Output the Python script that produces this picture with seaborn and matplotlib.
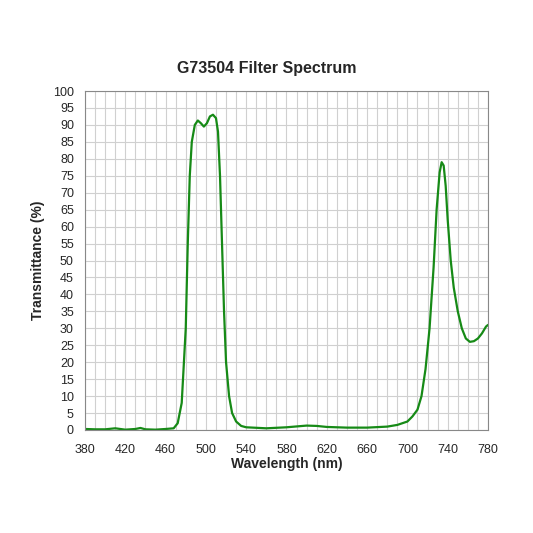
import matplotlib
matplotlib.use("Agg")
import matplotlib.pyplot as plt
import seaborn as sns
import pandas as pd

wavelength = [380,390,400,410,420,430,435,440,450,460,468,472,476,480,482,484,486,489,492,495,498,501,504,507,510,512,514,516,518,520,523,526,530,535,540,560,580,600,610,620,640,660,680,690,700,705,710,714,718,722,726,729,732,734,736,738,740,743,746,750,754,758,762,766,770,774,778,780]
transmittance = [0.3,0.2,0.2,0.5,0.1,0.3,0.6,0.2,0.1,0.3,0.5,2,8,30,55,75,85,90,91.3,90.5,89.5,90.5,92.5,93,92,88,75,55,35,20,10,5,2.5,1.2,0.8,0.5,0.8,1.3,1.2,0.9,0.7,0.7,1,1.5,2.5,4,6,10,18,30,48,65,76,79,78,72,62,50,42,35,30,27,26,26.2,27,28.5,30.5,31]

sns.set_theme(style="white")
plt.rcParams['font.family'] = ['Liberation Sans', 'DejaVu Sans']
df = pd.DataFrame({"wl": wavelength, "t": transmittance})

fig = plt.figure(figsize=(5.33, 5.33), dpi=100)
ax = fig.add_axes([85/533, 1-430/533, 403/533, 339/533])
sns.lineplot(data=df, x="wl", y="t", ax=ax, color="#168a16", linewidth=1.6)
ax.set_xlim(380, 780)
ax.set_ylim(0, 100)
ax.set_xticks(range(380, 781, 40))
ax.set_xticks(range(380, 781, 10), minor=True)
ax.set_yticks(range(0, 101, 5))
ax.grid(True, which="both", color="#d0d0d0", linewidth=0.8)
ax.tick_params(axis="x", labelsize=9, length=0, pad=10)
ax.tick_params(axis="y", labelsize=9, length=0, pad=8)
for s in ax.spines.values():
    s.set_color("#888888"); s.set_linewidth(0.8)
ax.set_xlabel("Wavelength (nm)", fontsize=10, fontweight="bold", labelpad=1)
ax.set_ylabel("Transmittance (%)", fontsize=10, fontweight="bold", labelpad=6)
fig.text(0.5, 1-68/533, "G73504 Filter Spectrum", ha="center", va="center", fontsize=11.5, fontweight="bold")
fig.savefig("out.png", dpi=100)
